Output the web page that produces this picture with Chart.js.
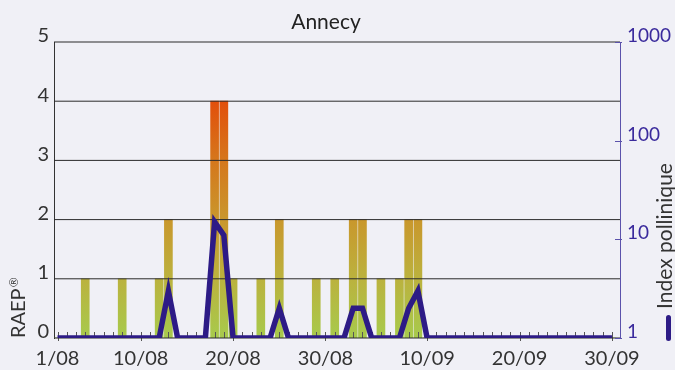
<!DOCTYPE html>
<html><head><meta charset="utf-8">
<script src="https://cdn.jsdelivr.net/npm/chart.js@4"></script>
<style>html,body{margin:0;padding:0;background:#f0f0f6;}canvas{display:block}</style>
</head><body>
<canvas id="c" width="675" height="370"></canvas>
<script>
const chartTitle = 'Annecy';
const leftAxisTitle = 'RAEP';
const rightAxisTitle = 'Index pollinique';
const dates = ['1/08','2/08','3/08','4/08','5/08','6/08','7/08','8/08','9/08','10/08','11/08','12/08','13/08','14/08','15/08','16/08','17/08','18/08','19/08','20/08','21/08','22/08','23/08','24/08','25/08','26/08','27/08','28/08','29/08','30/08','31/08',
  '1/09','2/09','3/09','4/09','5/09','6/09','7/09','8/09','9/09','10/09','11/09','12/09','13/09','14/09','15/09','16/09','17/09','18/09','19/09','20/09','21/09','22/09','23/09','24/09','25/09','26/09','27/09','28/09','29/09','30/09'];
const raep = [0,0,0,1,0,0,0,1,0,0, 0,1,2,0,0,0,0,4,4,1, 0,0,1,0,2,0,0,0,1,0, 1,0,2,2,0,1,0,1,2,2, 0,0,0,0,0,0,0,0,0,0, 0,0,0,0,0,0,0,0,0,0, 0];
const pollenIndex = [1,1,1,1,1,1,1,1,1,1, 1,1,3,1,1,1,1,15,11,1, 1,1,1,1,2,1,1,1,1,1, 1,1,2,2,1,1,1,1,2,3, 1,1,1,1,1,1,1,1,1,1, 1,1,1,1,1,1,1,1,1,1, 1];
const leftTicks = [0,1,2,3,4,5];
const rightTicks = [1,10,100,1000];
const xTickLabels = ['1/08','10/08','20/08','30/08','10/09','20/09','30/09'];

const FONT = 'Lato';
const LINE_COLOR = '#2d1b86';
const AXIS_PURPLE = '#3a2a9c';

function barGradient(ctx){
  const ch = ctx.chart;
  if (!ch.chartArea) return '#b8b440';
  const y = ch.scales.y;
  const g = ch.ctx.createLinearGradient(0, y.getPixelForValue(0), 0, y.getPixelForValue(4));
  g.addColorStop(0, '#a7ca4c');
  g.addColorStop(0.25, '#bbb23e');
  g.addColorStop(0.5, '#c9972c');
  g.addColorStop(0.75, '#d5771c');
  g.addColorStop(1, '#e24f0b');
  return g;
}

const decor = {
  id: 'decor',
  beforeDraw(chart){
    const c = chart.ctx;
    c.save(); c.fillStyle = '#f0f0f6'; c.fillRect(0,0,chart.width,chart.height); c.restore();
  },
  beforeDatasetDraw(chart, args){
    if (args.index !== 1) return;
    const c = chart.ctx, a = chart.chartArea, x = chart.scales.x, y = chart.scales.y, y1 = chart.scales.y1;
    c.save();
    c.strokeStyle = '#555'; c.lineWidth = 1;
    c.beginPath();
    dates.forEach((d,i)=>{
      const px = Math.round(x.getPixelForValue(i)) + 0.5;
      c.moveTo(px, a.bottom - 6);
      c.lineTo(px, a.bottom + (xTickLabels.includes(d) ? 3 : 0));
    });
    c.stroke();
    c.strokeStyle = '#2a2a2a'; c.lineWidth = 1;
    leftTicks.forEach(v=>{
      const py = y.getPixelForValue(v);
      c.beginPath(); c.moveTo(a.left, py); c.lineTo(a.right, py); c.stroke();
    });
    c.strokeStyle = '#5b52ab';
    rightTicks.forEach(v=>{
      const py = Math.round(y1.getPixelForValue(v)) + 0.5;
      c.beginPath(); c.moveTo(a.right - 5, py); c.lineTo(a.right + 2, py); c.stroke();
    });
    c.restore();
  },
  afterDraw(chart){
    const c = chart.ctx, a = chart.chartArea;
    c.save();
    c.fillStyle = '#222';
    c.font = '21px ' + FONT;
    c.textAlign = 'center'; c.textBaseline = 'alphabetic';
    c.fillText(chartTitle, 326, 29);
    c.save();
    c.translate(25, a.bottom);
    c.rotate(-Math.PI/2);
    c.textAlign = 'left'; c.textBaseline = 'alphabetic';
    c.fillStyle = '#333';
    c.font = '20px ' + FONT;
    c.fillText(leftAxisTitle, 0, 0);
    const w = c.measureText(leftAxisTitle).width;
    c.font = '12px ' + FONT;
    c.fillText('\u00AE', w + 1, -7);
    c.restore();
    c.save();
    c.translate(672, 309);
    c.rotate(-Math.PI/2);
    c.textAlign = 'left'; c.textBaseline = 'alphabetic';
    c.fillStyle = '#333';
    c.font = '21px ' + FONT;
    c.fillText(rightAxisTitle, 0, 0);
    c.restore();
    c.strokeStyle = LINE_COLOR; c.lineWidth = 5; c.lineCap = 'round';
    c.beginPath(); c.moveTo(668.5, 317.5); c.lineTo(668.5, 338.5); c.stroke();
    c.restore();
  }
};

new Chart(document.getElementById('c'), {
  data: {
    datasets: [
      {
        type: 'bar', label: 'RAEP', yAxisID: 'y', xAxisID: 'x', order: 2,
        data: raep.map((v,i)=>({x:i, y:v})),
        backgroundColor: barGradient, borderWidth: 0, barThickness: 8
      },
      {
        type: 'line', label: rightAxisTitle, yAxisID: 'y1', xAxisID: 'x', order: 1,
        data: pollenIndex.map((v,i)=>({x:i, y:v})),
        borderColor: LINE_COLOR, borderWidth: 5.5, pointRadius: 0, tension: 0,
        borderJoinStyle: 'miter', borderCapStyle: 'butt', fill: false
      }
    ]
  },
  options: {
    responsive: false, animation: false, devicePixelRatio: 1,
    layout: { padding: { top: 42, left: 0, right: 0, bottom: 0 } },
    plugins: { legend: { display: false }, title: { display: false }, tooltip: { enabled: false } },
    scales: {
      x: {
        type: 'linear', min: -0.38, max: 60.87, offset: false,
        grid: { display: false, drawTicks: false, offset: false },
        border: { display: false },
        afterBuildTicks: s => { s.ticks = xTickLabels.map(l => ({ value: dates.indexOf(l) })); },
        ticks: { autoSkip: false, maxRotation: 0, padding: 9, color: '#333',
                 font: { family: FONT, size: 20 }, callback: v => dates[v] },
        afterFit: s => { s.height = 32; }
      },
      y: {
        type: 'linear', position: 'left', min: 0, max: 5,
        grid: { display: false, drawTicks: false },
        border: { display: true, color: '#333', width: 1 },
        afterBuildTicks: s => { s.ticks = leftTicks.map(v => ({ value: v })); },
        ticks: { padding: 5, labelOffset: -6, color: '#333', font: { family: FONT, size: 20 } },
        afterFit: s => { s.width = 54; }
      },
      y1: {
        type: 'logarithmic', position: 'right', min: 1, max: 1000,
        grid: { display: false, drawTicks: false },
        border: { display: true, color: '#5b52ab', width: 1 },
        afterBuildTicks: s => { s.ticks = rightTicks.map(v => ({ value: v })); },
        ticks: { padding: 7, labelOffset: -6, color: AXIS_PURPLE, font: { family: FONT, size: 19 },
                 callback: v => String(v) },
        afterFit: s => { s.width = 55; }
      }
    }
  },
  plugins: [decor]
});
</script>
</body></html>
